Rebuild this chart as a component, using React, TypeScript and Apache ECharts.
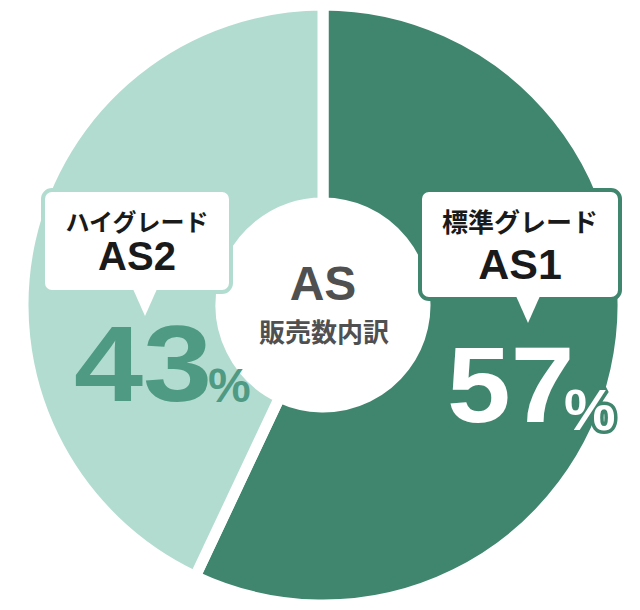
import React, { useEffect, useRef } from 'react';
import * as echarts from 'echarts';

// データ
const grades = ['標準グレード', 'ハイグレード'];
const models = ['AS1', 'AS2'];
const shares = [57, 43];
const centerTitle = 'AS';
const centerSubtitle = '販売数内訳';

const DARK = '#40866f';
const LIGHT = '#b3dcd1';
const MID = '#4f9a83';
const JP_FONT = '"Noto Sans CJK JP", sans-serif';
const NUM_FONT = '"Liberation Sans", Arial, sans-serif';

// 吹き出し(角丸の箱 + 下向きの三角)
const callout = (
  box: { x: number; y: number; w: number; h: number },
  tipX: number,
  tipY: number,
  stroke: string,
  grade: string,
  model: string,
  gradeSize: number,
  modelSize: number,
  modelY: number,
) => {
  const cx = box.x + box.w / 2;
  const bottom = box.y + box.h;
  return [
    {
      type: 'rect',
      z: 10,
      shape: { x: box.x, y: box.y, width: box.w, height: box.h, r: 9 },
      style: { fill: '#fff', stroke, lineWidth: 4 },
    },
    {
      type: 'polygon',
      z: 11,
      shape: {
        points: [
          [tipX - 12, bottom - 3],
          [tipX + 12, bottom - 3],
          [tipX, tipY],
        ],
      },
      style: { fill: '#fff' },
    },
    {
      type: 'text',
      z: 12,
      x: cx,
      y: box.y + 30,
      style: {
        text: grade,
        fill: '#1a1a1a',
        font: `bold ${gradeSize}px ${JP_FONT}`,
        align: 'center',
        verticalAlign: 'middle',
      },
    },
    {
      type: 'text',
      z: 12,
      x: cx,
      y: modelY,
      style: {
        text: model,
        fill: '#1a1a1a',
        font: `bold ${modelSize}px ${NUM_FONT}`,
        align: 'center',
        verticalAlign: 'middle',
      },
    },
  ];
};

// 大きいパーセント表示
const percent = (
  value: number,
  x: number,
  y: number,
  stretch: number,
  pctX: number,
  pctY: number,
  color: string,
  pctSize: number,
  outline?: string,
) => [
  {
    type: 'text',
    z: 12,
    x,
    y,
    scaleX: stretch,
    style: {
      text: String(value),
      fill: color,
      font: `bold 108px ${NUM_FONT}`,
      align: 'left',
      verticalAlign: 'middle',
    },
  },
  {
    type: 'text',
    z: 12,
    x: pctX,
    y: pctY,
    style: {
      text: '%',
      fill: color,
      font: `bold ${pctSize}px ${NUM_FONT}`,
      align: 'left',
      verticalAlign: 'middle',
      ...(outline ? { stroke: outline, lineWidth: 7, strokeFirst: true } : {}),
    },
  },
];

const App: React.FC = () => {
  const chartRef = useRef<HTMLDivElement>(null);

  useEffect(() => {
    if (!chartRef.current) return;
    document.body.style.margin = '0';
    const chart = echarts.init(chartRef.current, undefined, { renderer: 'svg' });

    const option = {
      animation: false,
      backgroundColor: '#fff',
      series: [
        {
          type: 'pie',
          silent: true,
          center: [323, 305],
          radius: [102, 300],
          startAngle: 90,
          clockwise: true,
          label: { show: false },
          labelLine: { show: false },
          emphasis: { disabled: true },
          itemStyle: { borderColor: '#fff', borderWidth: 11 },
          data: shares.map((v, i) => ({
            name: `${grades[i]} ${models[i]}`,
            value: v,
            itemStyle: { color: i === 0 ? DARK : LIGHT },
          })),
        },
      ],
      graphic: [
        ...callout({ x: 420, y: 190, w: 200, h: 109 }, 528, 323, DARK, grades[0], models[0], 26, 43, 264),
        ...callout({ x: 43, y: 190, w: 188, h: 102 }, 145, 316, LIGHT, grades[1], models[1], 24, 40, 256),
        ...percent(shares[0], 447, 385, 1.06, 564, 409, '#fff', 58, DARK),
        ...percent(shares[1], 74, 364, 1.15, 208, 385, MID, 48),
        {
          type: 'text',
          z: 12,
          x: 323,
          y: 283,
          style: {
            text: centerTitle,
            fill: '#505050',
            font: `bold 48px ${NUM_FONT}`,
            align: 'center',
            verticalAlign: 'middle',
          },
        },
        {
          type: 'text',
          z: 12,
          x: 324,
          y: 330,
          style: {
            text: centerSubtitle,
            fill: '#505050',
            font: `bold 26px ${JP_FONT}`,
            align: 'center',
            verticalAlign: 'middle',
          },
        },
      ],
    };

    chart.setOption(option);

    return () => {
      chart.dispose();
    };
  }, []);

  return <div ref={chartRef} style={{ width: 640, height: 610 }} />;
};

export default App;
